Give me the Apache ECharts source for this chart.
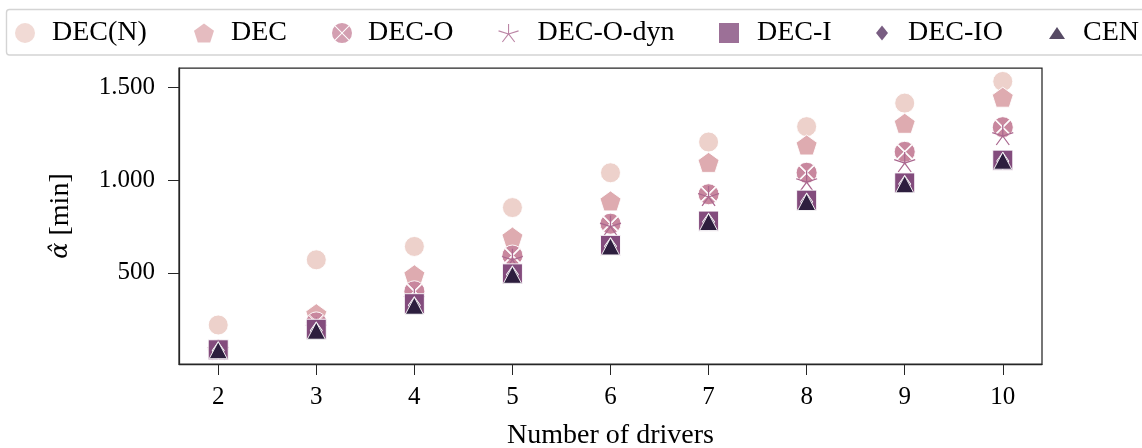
<!DOCTYPE html>
<html>
<head>
<meta charset="utf-8">
<script src="https://cdn.jsdelivr.net/npm/echarts@6/dist/echarts.min.js"></script>
<style>
  html, body { margin: 0; padding: 0; background: #fff; }
  #chart { width: 1142px; height: 448px; }
</style>
</head>
<body>
<div id="chart"></div>
<script>
// Number of drivers on the x axis
const categories = [2, 3, 4, 5, 6, 7, 8, 9, 10];
const seriesNames = ['DEC(N)', 'DEC', 'DEC-O', 'DEC-O-dyn', 'DEC-I', 'DEC-IO', 'CEN'];

// alpha-hat in minutes per strategy
const decN    = [218, 570, 642, 852, 1040, 1206, 1289, 1416, 1533];
const dec     = [86, 279, 489, 693, 888, 1096, 1190, 1307, 1448];
const decO    = [85, 232, 400, 593, 765, 924, 1040, 1153, 1286];
const decODyn = [84, 205, 360, 575, 755, 915, 995, 1098, 1244];
const decI    = [84, 195, 333, 494, 648, 779, 892, 985, 1108];
const decIO   = [80, 188, 324, 490, 643, 775, 884, 979, 1104];
const cen     = [82, 187, 322, 489, 642, 774, 882, 978, 1105];

const yTicks = [500, 1000, 1500];

// cubehelix palette, light to dark
const palette = ['#edd1cb', '#deabb0', '#c8879e', '#aa678f', '#834c7d', '#583463', '#2d1e3e'];

// marker shapes
const pentagon = 'path://M50 0L97.55 34.55L79.39 90.45L20.61 90.45L2.45 34.55Z';
const circleX = 'path://M50 46.5L83.9 12.6A50 50 0 0 0 16.1 12.6Z' +
                'M53.5 50L87.4 83.9A50 50 0 0 0 87.4 16.1Z' +
                'M50 53.5L16.1 87.4A50 50 0 0 0 83.9 87.4Z' +
                'M46.5 50L12.6 16.1A50 50 0 0 0 12.6 83.9Z';
const asterisk = 'path://M50 50L50 0M50 50L97.55 34.55M50 50L79.39 90.45M50 50L20.61 90.45M50 50L2.45 34.55';

const allValues = [decN, dec, decO, decODyn, decI, decIO, cen];
const flat = allValues.flat();
const dMin = Math.min(...flat), dMax = Math.max(...flat);
const pad = (dMax - dMin) * 0.05;

const thousands = v => String(v).replace(/\B(?=(\d{3})+(?!\d))/g, '.');

const markers = [
  { symbol: 'circle', size: 20 },
  { symbol: pentagon, size: [21, 20] },
  { symbol: circleX, size: 21 },
  { symbol: asterisk, size: [21, 20], line: true },
  { symbol: 'rect', size: 20 },
  { symbol: 'diamond', size: [12, 17] },
  { symbol: 'triangle', size: [18, 17] }
];

const series = seriesNames.map((name, i) => ({
  name,
  type: 'scatter',
  data: categories.map((c, j) => [c, allValues[i][j]]),
  symbol: markers[i].symbol,
  symbolSize: markers[i].size,
  itemStyle: markers[i].line
    ? { color: palette[i], borderColor: palette[i], borderWidth: 1.2, opacity: 1 }
    : { color: palette[i], borderColor: '#ffffff', borderWidth: 0.9, opacity: 1 },
  emphasis: { disabled: true },
  z: 2 + i
}));

// legend entries: icon centre x, text start x, icon size
const legendLayout = [
  { cx: 25,   tx: 52,  w: 20, h: 20, icon: 'circle' },
  { cx: 204,  tx: 231, w: 20, h: 19, icon: pentagon },
  { cx: 342,  tx: 368, w: 20, h: 20, icon: circleX },
  { cx: 508,  tx: 537, w: 20, h: 18, icon: asterisk },
  { cx: 729,  tx: 757, w: 20, h: 20, icon: 'rect' },
  { cx: 882,  tx: 908, w: 12, h: 15, icon: 'diamond' },
  { cx: 1057, tx: 1083, w: 16, h: 12, icon: 'triangle' }
];
const legendTop = 19;

const legends = seriesNames.map((name, i) => {
  const L = legendLayout[i];
  const left = L.cx - L.w / 2;
  const isLine = i === 3;
  return {
    data: [{
      name,
      icon: L.icon,
      itemStyle: isLine
        ? { color: palette[i], borderColor: palette[i], borderWidth: 1.1, opacity: 0.8 }
        : { color: palette[i], borderWidth: 0, opacity: 0.8 }
    }],
    left: left,
    top: legendTop,
    padding: 0,
    itemWidth: L.w,
    itemHeight: L.h,
    symbolKeepAspect: false,
    selectedMode: false,
    textStyle: {
      fontFamily: 'Liberation Serif',
      fontSize: 28,
      color: '#000',
      padding: [0, 0, 0, L.tx - (left + L.w + 5)]
    }
  };
});

const serif = 'Liberation Serif';
const axisColor = '#262626';

const option = {
  animation: false,
  backgroundColor: '#ffffff',
  graphic: [{
    type: 'rect',
    shape: { x: 6.5, y: 9.5, width: 1160, height: 45.5, r: 3 },
    style: { fill: 'rgba(255,255,255,0.8)', stroke: '#d4d4d4', lineWidth: 1.4 },
    z: 0,
    silent: true
  }],
  legend: legends,
  grid: {
    left: 179, right: 100, top: 68, bottom: 84,
    outerBoundsMode: 'none',
    containLabel: false,
    show: true, borderColor: axisColor, borderWidth: 1.25, backgroundColor: 'transparent'
  },
  xAxis: {
    type: 'value',
    min: 1.6,
    max: 10.4,
    name: 'Number of drivers',
    nameLocation: 'middle',
    nameGap: 58,
    nameTextStyle: { fontFamily: serif, fontSize: 28, color: '#000' },
    axisLine: { show: true, lineStyle: { color: axisColor, width: 1.25 } },
    axisTick: { show: true, length: 11, lineStyle: { color: axisColor, width: 1 }, customValues: categories },
    axisLabel: { fontFamily: serif, fontSize: 25, color: '#000', margin: 21, customValues: categories },
    splitLine: { show: false }
  },
  yAxis: {
    type: 'value',
    min: dMin - pad,
    max: dMax + pad,
    name: '{a|α̂} [min]',
    nameLocation: 'middle',
    nameGap: 104,
    nameRotate: 90,
    nameTextStyle: {
      fontFamily: serif, fontSize: 28, color: '#000',
      rich: { a: { fontFamily: 'DejaVu Serif', fontStyle: 'italic', fontSize: 24, color: '#000' } }
    },
    axisLine: { show: true, lineStyle: { color: axisColor, width: 1.25 } },
    axisTick: { show: true, length: 11, lineStyle: { color: axisColor, width: 1 }, customValues: yTicks },
    axisLabel: { fontFamily: serif, fontSize: 25, color: '#000', margin: 24, customValues: yTicks, formatter: thousands },
    splitLine: { show: false }
  },
  series
};

const chart = echarts.init(document.getElementById('chart'), null, { renderer: 'canvas' });
chart.setOption(option);
</script>
</body>
</html>
